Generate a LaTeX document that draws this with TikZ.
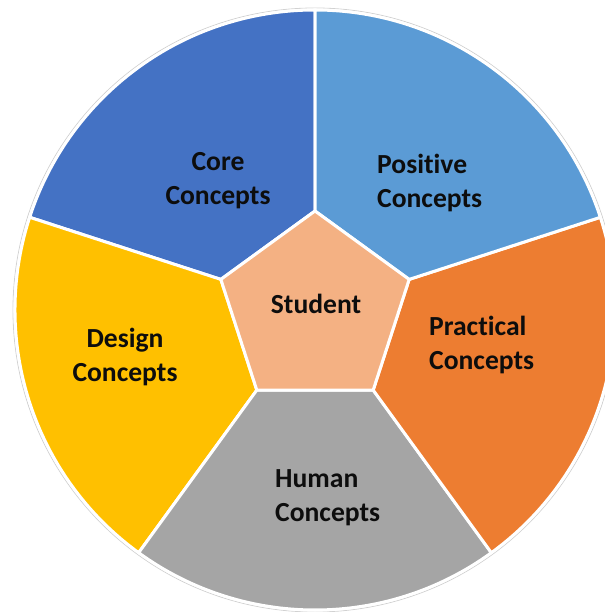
\documentclass[tikz,border=0pt]{standalone}
\usepackage{fontspec}
\setmainfont[Ligatures=NoCommon]{Carlito}
\definecolor{coreblue}{HTML}{4472C4}
\definecolor{posblue}{HTML}{5B9BD5}
\definecolor{pracorange}{HTML}{ED7D31}
\definecolor{humangray}{HTML}{A5A5A5}
\definecolor{designgold}{HTML}{FFC000}
\definecolor{studentpeach}{HTML}{F4B183}
\definecolor{txt}{HTML}{0D0D0D}
\begin{document}
\begin{tikzpicture}[x=1pt,y=1pt,
  sector/.style={draw=white, line width=3pt, line join=round},
  lbl/.style={font=\fontsize{27.6}{34}\selectfont\bfseries, text=txt, inner sep=0pt},
]
\useasboundingbox (-315,-302) rectangle (289,310);
\def\Rr{300}
\def\rr{99}
% outer faint outline
\draw[black!18, line width=0.8pt] (0,0) circle[radius=\Rr+2];
% sectors
\path[sector, fill=coreblue] (90:\rr) -- (90:\Rr) arc[start angle=90, end angle=162, radius=\Rr] -- (162:\rr) -- cycle;
\path[sector, fill=designgold] (162:\rr) -- (162:\Rr) arc[start angle=162, end angle=234, radius=\Rr] -- (234:\rr) -- cycle;
\path[sector, fill=humangray] (234:\rr) -- (234:\Rr) arc[start angle=234, end angle=306, radius=\Rr] -- (306:\rr) -- cycle;
\path[sector, fill=pracorange] (306:\rr) -- (306:\Rr) arc[start angle=306, end angle=378, radius=\Rr] -- (18:\rr) -- cycle;
\path[sector, fill=posblue] (18:\rr) -- (18:\Rr) arc[start angle=18, end angle=90, radius=\Rr] -- (90:\rr) -- cycle;
% central pentagon
\path[sector, fill=studentpeach] (90:\rr) -- (162:\rr) -- (234:\rr) -- (306:\rr) -- (18:\rr) -- cycle;
% labels
\node[lbl, align=center] (core) at (-97,129) {Core\\Concepts};
\node[lbl, align=left, anchor=west] (positive) at (62,127) {Positive\\Concepts};
\node[lbl, align=left, anchor=west] (practical) at (114,-35) {Practical\\Concepts};
\node[lbl, align=center] (design) at (-190,-47) {Design\\Concepts};
\node[lbl, align=left, anchor=west] (human) at (-40,-188) {Human\\Concepts};
\node[lbl] (student) at (1,6) {Student};
\end{tikzpicture}
\end{document}
